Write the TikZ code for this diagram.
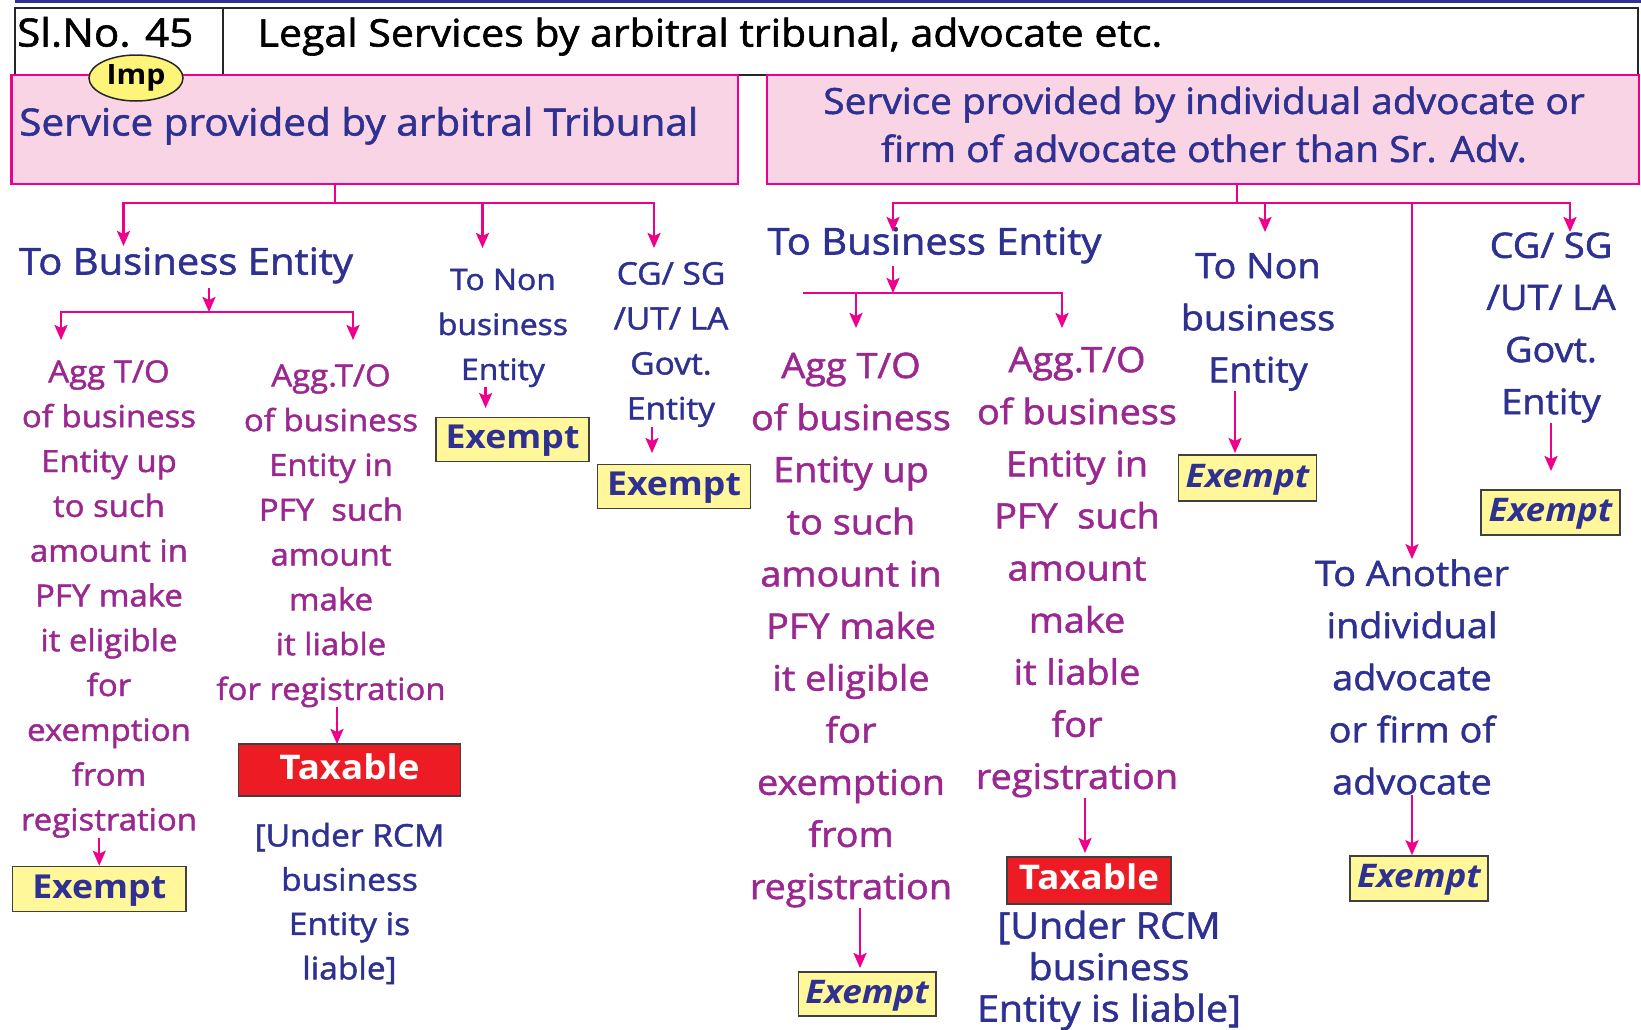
\documentclass[tikz,border=0pt]{standalone}
\usepackage{fontspec}
\setmainfont{Open Sans}[FakeStretch=1.08,UprightFeatures={FakeBold=1.5}]
\usetikzlibrary{arrows.meta,positioning,shapes.geometric}
\definecolor{lawpink}{HTML}{EC008C}
\definecolor{lawpinkbg}{HTML}{F9D4E4}
\definecolor{lawnavy}{HTML}{2E3192}
\definecolor{lawpurple}{HTML}{9B2790}
\definecolor{exyellow}{HTML}{FFF799}
\definecolor{impyellow}{HTML}{FFF47A}
\definecolor{taxred}{HTML}{ED1C24}
\tikzset{
  pline/.style={draw=lawpink,line width=2.4pt},
  parrow/.style={pline,-{Stealth[length=15pt,width=13pt,inset=3pt]}},
  hdrbox/.style={rectangle,draw=black!85,line width=1.8pt,inner sep=0pt},
  pinkbox/.style={rectangle,draw=lawpink,fill=lawpinkbg,line width=2.6pt,inner sep=0pt},
  exbox/.style={rectangle,draw=black!75,fill=exyellow,line width=1.6pt,text=lawnavy,
    inner sep=0pt,text height=26pt,text depth=8pt},
  taxbox/.style={rectangle,draw=black!75,fill=taxred,line width=1.6pt,text=white,
    inner sep=0pt,text height=26pt,text depth=8pt,font=\fontsize{34}{40}\selectfont\bfseries},
  navytxt/.style={text=lawnavy,align=center,inner sep=0pt},
  purptxt/.style={text=lawpurple,align=center,inner sep=0pt},
  oneline/.style={text height=27pt,text depth=8pt},
  fbig/.style={font=\fontsize{37}{48}\selectfont},
  fsmall/.style={font=\fontsize{30.5}{44.8}\selectfont},
  fmid/.style={font=\fontsize{35}{52.1}\selectfont},
}

\begin{document}
\begin{tikzpicture}[x=1pt,y=-1pt,
  impbadge/.style={ellipse,draw=black!85,fill=impyellow,line width=1.5pt,inner sep=0pt,
    minimum width=94pt,minimum height=46pt,font=\fontsize{28}{30}\selectfont\bfseries},
  exleft/.style={exbox,font=\fontsize{33}{40}\selectfont\bfseries},
  exright/.style={exbox,font=\fontsize{32.5}{40}\selectfont\bfseries\itshape},
]
  \useasboundingbox (0,0) rectangle (1641,1029);
  \fill[white] (0,0) rectangle (1641,1029);
  % header
  \draw[lawnavy,line width=3pt] (15,1.5) -- (1641,1.5);
  \node[hdrbox,minimum width=208pt,minimum height=67pt] (slbox) at (119,41.5) {};
  \node[hdrbox,minimum width=1415pt,minimum height=67pt] (titlebox) at (930.5,41.5) {};
  \node[inner sep=0pt,oneline,anchor=west,font=\fontsize{39}{40}\selectfont] (slno) at (17,37) {Sl.No. 45};
  \node[inner sep=0pt,oneline,anchor=west,font=\fontsize{38}{40}\selectfont] (title) at (257.5,37)
    {Legal Services by arbitral tribunal, advocate etc.};
  % the two kinds of service
  \node[pinkbox,minimum width=726.5pt,minimum height=109pt] (lhead) at (374.75,129.5) {};
  \node[navytxt,font=\fontsize{37.5}{48}\selectfont,oneline,anchor=west] (lheadtxt) at (19,126) {Service provided by arbitral Tribunal};
  \node[impbadge] (imp) at (136,78) {Imp};
  \node[pinkbox,minimum width=872pt,minimum height=109pt] (rhead) at (1203,129.5) {};
  \node[navytxt,font=\fontsize{36}{48}\selectfont] (rheadtxt) at (1204,124.5)
    {Service provided by individual advocate or\\firm of advocate other than Sr. Adv.};

  % arbitral tribunal side
  \node[navytxt,fbig,oneline] (lbe) at (186,265) {To Business Entity};
  \node[purptxt,fsmall] (la1) at (109,599) {Agg T/O\\of business\\Entity up\\to such\\amount in\\PFY make\\it eligible\\for\\exemption\\from\\registration};
  \node[purptxt,fsmall] (la2) at (331,535.7) {Agg.T/O\\of business\\Entity in\\PFY\ \ such\\amount\\make\\it liable\\for registration};
  \node[navytxt,font=\fontsize{29.5}{45}\selectfont] (ln) at (503,328) {To Non\\business\\Entity};
  \node[navytxt,font=\fontsize{31}{45}\selectfont] (lc) at (671,344.5) {CG/ SG\\/UT/ LA\\Govt.\\Entity};
  \node[exleft,minimum width=173.5pt,minimum height=45pt] (le1) at (99.25,889) {Exempt};
  \node[taxbox,minimum width=222pt,minimum height=52.5pt] (lt) at (349.5,770) {Taxable};
  \node[navytxt,font=\fontsize{31}{44.3}\selectfont] (lr) at (349.5,903.5) {[Under RCM\\business\\Entity is\\liable]};
  \node[exleft,minimum width=153pt,minimum height=44pt] (lne) at (512.5,439.6) {Exempt};
  \node[exleft,minimum width=152.8pt,minimum height=44pt] (lce) at (674,486.6) {Exempt};

  \coordinate (lj) at (335,203);
  \coordinate (lbeIn) at (123.5,246);
  \coordinate (lnIn) at (482.5,248);
  \coordinate (lcIn) at (654,248);
  \coordinate (lsj) at (209,312);
  \coordinate (la1In) at (61,340);
  \coordinate (la2In) at (353,340);
  \coordinate (ltIn) at (337,744);
  \coordinate (lneIn) at (485.6,408);
  \coordinate (lceIn) at (652,453);
  \draw[pline] (lhead.south -| lj) -- (lj);
  \draw[parrow] (lj) -| (lbeIn);
  \draw[parrow] (lj) -| (lnIn);
  \draw[parrow] (lj) -| (lcIn);
  \draw[parrow,shorten <=5pt] (lbe.south -| lsj) -- (lsj);
  \draw[parrow] (lsj) -| (la1In);
  \draw[parrow] (lsj) -| (la2In);
  \draw[parrow] (la1.south -| le1.north) -- (le1.north);
  \draw[parrow] (la2.south -| ltIn) -- (ltIn);
  \draw[parrow] (ln.south -| lneIn) -- (lneIn);
  \draw[parrow] (lc.south -| lceIn) -- (lceIn);

  % advocate side
  \node[navytxt,fbig,oneline] (rbe) at (934.5,245) {To Business Entity};
  \node[purptxt,fmid] (ra1) at (851,630) {Agg T/O\\of business\\Entity up\\to such\\amount in\\PFY make\\it eligible\\for\\exemption\\from\\registration};
  \node[purptxt,fmid] (ra2) at (1077,572) {Agg.T/O\\of business\\Entity in\\PFY\ \ such\\amount\\make\\it liable\\for\\registration};
  \node[navytxt,fmid] (rn) at (1258,322) {To Non\\business\\Entity};
  \node[navytxt,fmid] (rc) at (1551,327.5) {CG/ SG\\/UT/ LA\\Govt.\\Entity};
  \node[navytxt,fmid] (ra) at (1412,677) {To Another\\individual\\advocate\\or firm of\\advocate};
  \node[exright,minimum width=137.2pt,minimum height=44pt] (re1) at (867.1,994) {Exempt};
  \node[taxbox,minimum width=164pt,minimum height=47pt] (rt) at (1089,880.5) {Taxable};
  \node[navytxt,font=\fontsize{36.5}{41.5}\selectfont] (rr) at (1109,970.5) {[Under RCM\\business\\Entity is liable]};
  \node[exright,minimum width=138pt,minimum height=46pt] (rne) at (1247.5,478) {Exempt};
  \node[exright,minimum width=139pt,minimum height=45pt] (rce) at (1550.5,512.5) {Exempt};
  \node[exright,minimum width=138pt,minimum height=45pt] (rae) at (1419,878.5) {Exempt};

  \coordinate (rj) at (1237,203);
  \coordinate (rbeIn) at (893,232);
  \coordinate (rnIn) at (1265,232);
  \coordinate (rcIn) at (1570,232);
  \coordinate (rsj) at (893,293);
  \coordinate (rsL) at (803,293);
  \coordinate (ra1In) at (856,328);
  \coordinate (ra2In) at (1062,328);
  \coordinate (re1In) at (860,968);
  \coordinate (rtIn) at (1085,853);
  \coordinate (rneIn) at (1235,453);
  \coordinate (rceIn) at (1551,471);
  \draw[pline] (rhead.south -| rj) -- (rj);
  \draw[parrow] (rj) -| (rbeIn);
  \draw[parrow] (rj) -| (rnIn);
  \draw[parrow] (rj) -| (rcIn);
  \draw[parrow] (rj) -| (ra.north);
  \draw[parrow,shorten <=3pt] (rbe.south -| rsj) -- (rsj);
  \draw[pline] (rsj) -- (rsL);
  \draw[parrow] (rsj) -| (ra1In);
  \draw[parrow] (rsj) -| (ra2In);
  \draw[parrow] (ra1.south -| re1In) -- (re1In);
  \draw[parrow] (ra2.south -| rtIn) -- (rtIn);
  \draw[parrow] (rn.south -| rneIn) -- (rneIn);
  \draw[parrow] (rc.south -| rceIn) -- (rceIn);
  \draw[parrow] (ra.south) -- (rae.north -| ra.south);
\end{tikzpicture}
\end{document}
